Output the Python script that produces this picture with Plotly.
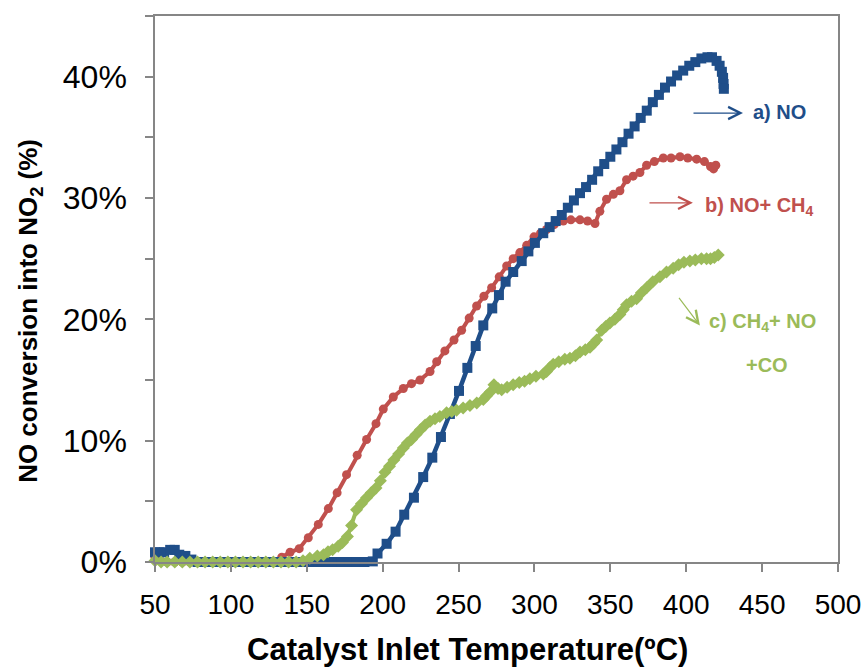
import plotly.graph_objects as go

# ---------------- data (temperature in degC, conversion as fraction) ----------------
no_T = [50, 53, 56, 60, 63, 66, 70, 74, 78, 83, 88, 93, 98, 103, 108, 113, 118, 123, 128, 133,
        138, 143, 148, 153, 158, 163, 168, 173, 178, 183, 188, 193.5, 196.6, 202.6, 208.5, 214.2,
        220.6, 226.7, 232.7, 238.4, 244.3, 250.3, 255.8, 261.3, 266.3, 272.2, 276.6, 281, 286,
        291.6, 296, 300.3, 305.8, 310, 314, 318, 322, 326, 330, 334, 338, 342, 346, 350, 354,
        358, 362, 366, 370, 374, 378, 382, 386, 390, 394, 398, 402, 406, 410, 414, 417, 420,
        422, 423.5, 424.3, 424.6, 424.8]
no_V = [0.8, 0.8, 0.8, 1.0, 1.0, 0.6, 0.5, 0.2, 0, 0, 0, 0, 0, 0, 0, 0, 0, 0, 0, 0,
        0, 0, 0, 0, 0, 0, 0, 0, 0, 0, 0, 0.05, 0.7, 1.5, 2.5, 3.9,
        5.3, 7.0, 8.6, 10.3, 12.2, 14.1, 16.0, 17.8, 19.5, 20.9, 22.0, 23.1, 23.9,
        24.8, 25.6, 26.3, 27.1, 27.6, 28.1, 28.6, 29.2, 29.8, 30.4, 30.9, 31.5, 32.2, 32.8, 33.4, 34.0,
        34.6, 35.3, 35.9, 36.6, 37.2, 37.9, 38.5, 39.1, 39.6, 40.1, 40.5, 40.9, 41.2, 41.5, 41.6, 41.6, 41.3,
        40.9, 40.4, 39.9, 39.4, 39.0]

noch4_T = [50, 53, 58, 63, 68, 73, 78, 83, 88, 93, 98, 103, 108, 113, 118, 123, 128, 133.5, 139, 145,
           151, 157.6, 164.2, 170, 176.2, 183.2, 189.4, 195.6, 200.4, 207, 213.6, 219, 224.6, 231.2,
           235.6, 241, 247, 252, 257, 261.9, 266.7, 271.8, 276.8, 281.7, 286, 290.4, 294.9, 299.7,
           304, 308, 313, 319, 324, 330, 335, 339.9, 343.1, 347.5, 352, 356.3, 360.7, 365, 369.5,
           373.9, 379, 384.9, 390, 395.9, 401, 406.9, 412, 416, 418, 419.5]
noch4_V = [0.35, 0.2, 0, 0, 0, 0, 0, 0, 0, 0, 0, 0, 0, 0, 0, 0, 0, 0.4, 0.8, 1.1,
           2.0, 3.1, 4.4, 5.7, 7.2, 8.8, 10.1, 11.4, 12.6, 13.6, 14.3, 14.7, 15.0, 15.7,
           16.5, 17.4, 18.3, 19.1, 20.1, 21.1, 21.9, 22.6, 23.5, 24.4, 25.0, 25.5, 26.1, 26.8,
           27.1, 27.4, 27.8, 28.1, 28.2, 28.2, 28.1, 27.9, 28.9, 29.9, 30.3, 30.6, 31.5, 31.8, 32.1,
           32.7, 33.0, 33.3, 33.3, 33.4, 33.3, 33.2, 33.0, 32.6, 32.4, 32.7]

ch4noco_T = [50, 54, 58, 63, 68, 73, 78, 83, 88, 93, 98, 103, 108, 113, 118, 123, 128, 133, 138, 143,
             147.5, 152, 157, 161, 164, 167, 170.7, 173.5, 176.8, 179.5, 182.8, 186, 189.4, 192.5,
             195.6, 198.5, 201.5, 204.5, 207.4, 210.5, 213.6, 216.3, 219, 222, 224.9, 228, 231.2,
             234.5, 237.7, 242.1, 245.5, 248.7, 253, 257.5, 262, 266.3, 268.5, 270.7, 273.3, 276,
             278.4, 282, 286, 290, 293.5, 297, 301, 305.8, 308, 310, 312.4, 316, 320, 323.4, 327,
             330, 333.5, 336.6, 339, 341, 344.3, 347, 349.7, 353, 356.3, 358.5, 360.7, 364, 367.3,
             370.5, 373.9, 378, 382.7, 387, 391.4, 395, 398.5, 402.4, 406, 410, 413.4, 416, 418.5, 421.1]
ch4noco_V = [0.1, 0, 0, 0, 0, 0, 0, 0, 0, 0, 0, 0, 0, 0, 0, 0, 0, 0, 0, 0,
             0.1, 0.3, 0.5, 0.6, 0.85, 1.0, 1.3, 1.6, 2.1, 3.0, 4.3, 4.8, 5.3, 5.7,
             6.1, 6.7, 7.4, 7.9, 8.4, 8.9, 9.4, 9.8, 10.1, 10.5, 10.9, 11.3, 11.6,
             11.8, 12.0, 12.3, 12.4, 12.5, 12.7, 12.9, 13.1, 13.4, 13.7, 14.0, 14.6, 14.3,
             14.2, 14.4, 14.6, 14.8, 14.9, 15.1, 15.3, 15.5, 15.7, 16.0, 16.3, 16.5, 16.7, 16.8, 17.0,
             17.3, 17.5, 17.7, 18.0, 18.3, 19.1, 19.4, 19.7, 20.0, 20.4, 20.8, 21.2, 21.5, 21.7,
             22.2, 22.6, 23.1, 23.5, 23.9, 24.2, 24.5, 24.7, 24.8, 24.9, 25.0, 25.0, 25.0, 25.1, 25.3]

x_ticks = [50, 100, 150, 200, 250, 300, 350, 400, 450, 500]
y_ticks = [0, 0.1, 0.2, 0.3, 0.4]

BLUE = "#1F4E89"
RED = "#C0504D"
GREEN = "#9BBB59"
FONT = "Liberation Sans, Arial, sans-serif"

fig = go.Figure()
fig.add_trace(go.Scatter(x=noch4_T, y=[v / 100 for v in noch4_V], mode="lines+markers",
                         line=dict(color=RED, width=4),
                         marker=dict(symbol="circle", size=9, color=RED),
                         cliponaxis=False, name="b) NO+ CH4"))
fig.add_trace(go.Scatter(x=no_T, y=[v / 100 for v in no_V], mode="lines+markers",
                         line=dict(color=BLUE, width=4.5),
                         marker=dict(symbol="square", size=10, color=BLUE),
                         cliponaxis=False, name="a) NO"))
fig.add_trace(go.Scatter(x=ch4noco_T, y=[v / 100 for v in ch4noco_V], mode="lines+markers",
                         line=dict(color=GREEN, width=4),
                         marker=dict(symbol="diamond", size=10, color=GREEN),
                         cliponaxis=False, name="c) CH4+ NO +CO"))

ann_font = dict(family=FONT, size=20)
annotations = [
    # arrows
    dict(x=437.4, y=0.370, ax=403.8, ay=0.370, xref="x", yref="y", axref="x", ayref="y",
         text="", showarrow=True, arrowhead=5, arrowsize=2, arrowwidth=1.2, arrowcolor=BLUE),
    dict(x=404.4, y=0.296, ax=374.8, ay=0.296, xref="x", yref="y", axref="x", ayref="y",
         text="", showarrow=True, arrowhead=5, arrowsize=2, arrowwidth=1.2, arrowcolor=RED),
    dict(x=409.0, y=0.195, ax=394.5, ay=0.219, xref="x", yref="y", axref="x", ayref="y",
         text="", showarrow=True, arrowhead=5, arrowsize=2, arrowwidth=1.2, arrowcolor=GREEN),
    # series labels
    dict(x=461.7, y=0.371, xref="x", yref="y", text="<b>a) NO</b>", showarrow=False,
         font=dict(color=BLUE, **ann_font)),
    dict(x=448.6, y=0.293, xref="x", yref="y", text="<b>b) NO+ CH<sub>4</sub></b>", showarrow=False,
         font=dict(color=RED, **ann_font)),
    dict(x=450.0, y=0.197, xref="x", yref="y", text="<b>c) CH<sub>4</sub>+ NO</b>", showarrow=False,
         font=dict(color=GREEN, **ann_font)),
    dict(x=453.0, y=0.162, xref="x", yref="y", text="<b>+CO</b>", showarrow=False,
         font=dict(color=GREEN, **ann_font)),
    # axis titles
    dict(x=-0.183, y=0.46, xref="paper", yref="paper", xanchor="center", yanchor="middle",
         textangle=-90, showarrow=False,
         text="<b>NO conversion into NO<sub>2</sub> (%)</b>",
         font=dict(family=FONT, size=26, color="black")),
    dict(x=0.457, y=-0.161, xref="paper", yref="paper", xanchor="center", yanchor="middle",
         showarrow=False,
         text="<b>Catalyst Inlet Temperature(ºC)</b>",
         font=dict(family=FONT, size=31, color="black")),
]

fig.update_layout(
    width=861, height=669,
    margin=dict(l=155, r=23, t=16, b=107),
    paper_bgcolor="white", plot_bgcolor="white",
    showlegend=False,
    annotations=annotations,
)

fig.update_xaxes(
    range=[50, 500], tickvals=x_ticks, ticktext=[str(t) for t in x_ticks],
    automargin=False, ticklabeloverflow="allow", ticklabelstandoff=9,
    showgrid=False, zeroline=False,
    showline=True, linecolor="#868686", linewidth=1.5, mirror=True,
    ticks="outside", ticklen=8, tickcolor="#868686", tickwidth=1.5,
    tickfont=dict(family=FONT, size=28, color="black"),
)
fig.update_yaxes(
    range=[0, 0.45], tickvals=y_ticks, tickformat=".0%",
    automargin=False, ticklabelstandoff=12,
    showgrid=False, zeroline=False,
    showline=True, linecolor="#868686", linewidth=1.5, mirror=True,
    ticks="outside", ticklen=8, tickcolor="#868686", tickwidth=1.5,
    minor=dict(dtick=0.05, ticks="outside", ticklen=8, tickcolor="#868686", tickwidth=1.5),
    tickfont=dict(family=FONT, size=32, color="black"),
)

fig.write_html("out.html", config={"displayModeBar": False},
               post_script="document.body.style.margin='0px';")
